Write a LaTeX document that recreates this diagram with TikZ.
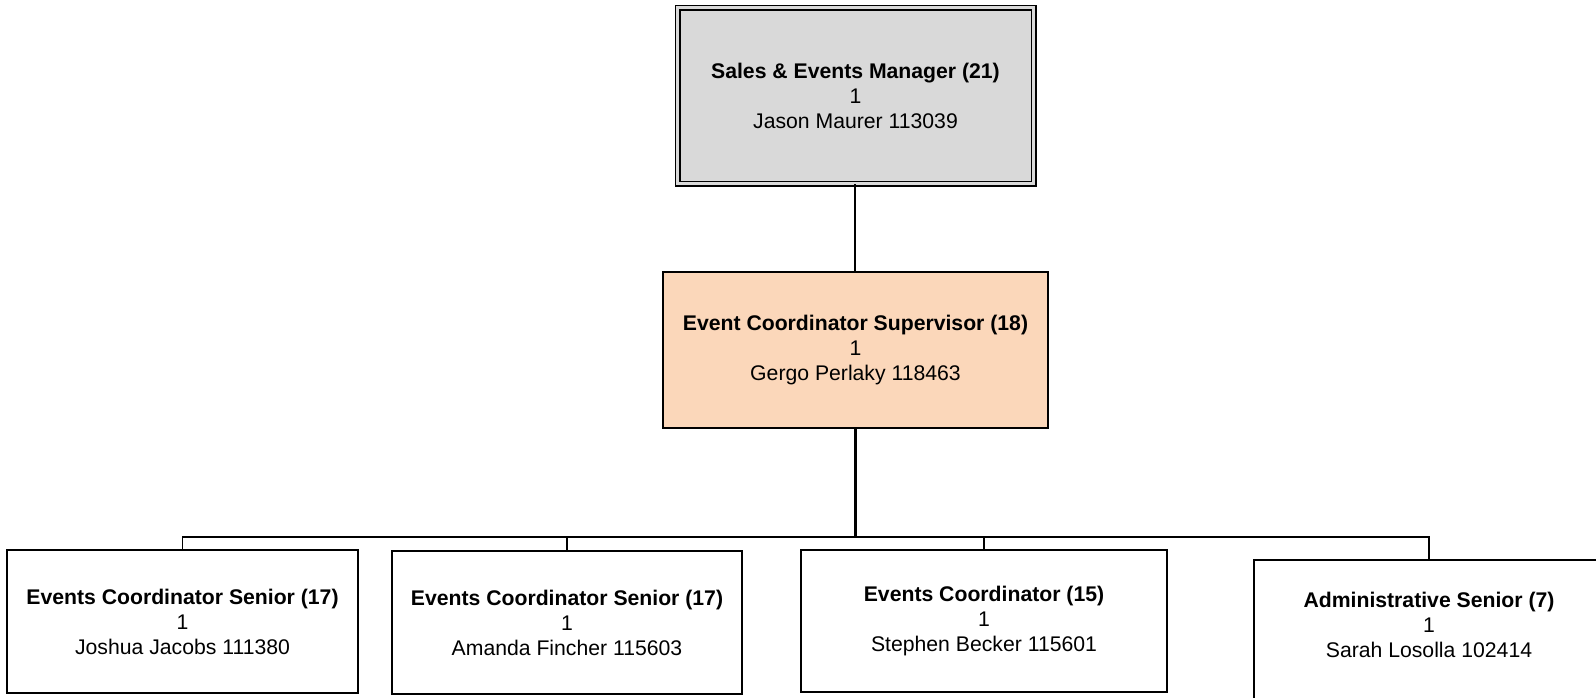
\documentclass[tikz,border=0pt]{standalone}
\usepackage{fontspec}
\setmainfont{Liberation Sans}
\definecolor{topgray}{HTML}{D9D9D9}
\definecolor{peach}{HTML}{FBD7BA}
\tikzset{
  x=1pt, y=-1pt,
  box/.style={draw=black, line width=1.4pt, rectangle, inner sep=0pt, align=center,
    font=\fontsize{21.2}{25}\selectfont},
  txt/.style={inner sep=0pt, align=center, font=\fontsize{21.2}{25}\selectfont},
  link/.style={draw=black, line width=1.6pt},
  thicklink/.style={draw=black, line width=3pt},
}
\begin{document}
\begin{tikzpicture}
\useasboundingbox (0,0) rectangle (1596,697);
\clip (0,0) rectangle (1596,697);
% top box with double border
\node[box, fill=topgray, line width=1.3pt, double=topgray, double distance=3.4pt,
  minimum width=356pt, minimum height=176pt] (top) at (855.5,95.5)
  {\textbf{Sales \& Events Manager (21)}\\1\\Jason Maurer 113039};
% middle box
\node[box, fill=peach, minimum width=385pt, minimum height=156pt] (mid) at (855.5,350)
  {\textbf{Event Coordinator Supervisor (18)}\\1\\Gergo Perlaky 118463};
% bottom boxes
\node[box, minimum width=351pt, minimum height=143pt] (b1) at (182.5,621.5)
  {\textbf{Events Coordinator Senior (17)}\\1\\Joshua Jacobs 111380};
\node[box, minimum width=350pt, minimum height=143pt] (b2) at (567,622.5)
  {\textbf{Events Coordinator Senior (17)}\\1\\Amanda Fincher 115603};
\node[box, minimum width=366pt, minimum height=142pt] (b3) at (984,621)
  {\textbf{Events Coordinator (15)}\\1\\Stephen Becker 115601};
\node[box, minimum width=350pt, minimum height=143pt] (b4) at (1429,631.5) {};
\node[txt] (b4text) at (1429,624.5)
  {\textbf{Administrative Senior (7)}\\1\\Sarah Losolla 102414};
% connectors
\coordinate (bus) at (855,537);
\draw[link] (top.south -| bus) -- (mid.north -| bus);
\draw[thicklink] (mid.south) -- (mid.south |- bus);
\draw[link] (b1.north) |- (bus);
\draw[link] (b2.north) |- (bus);
\draw[link] (b3.north) |- (bus);
\draw[link] (b4.north) |- (bus);
\end{tikzpicture}
\end{document}
